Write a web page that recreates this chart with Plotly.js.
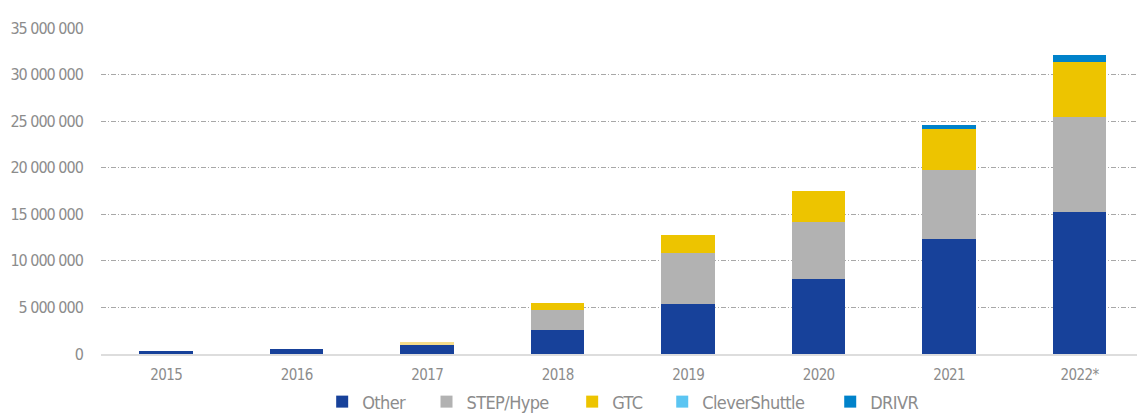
<!DOCTYPE html>
<html>
<head>
<meta charset="utf-8">
<script src="https://cdn.plot.ly/plotly-3.0.1.min.js"></script>
<style>
html,body{margin:0;padding:0;background:#fff;}
#chart{width:1137px;height:413px;}
#chart .ytick text{letter-spacing:-1px;}
#chart .xtick text{letter-spacing:-0.6px;}
#chart .legendtext{letter-spacing:-0.6px;}
</style>
</head>
<body>
<div id="chart"></div>
<script>
const years = ['2015','2016','2017','2018','2019','2020','2021','2022*'];
const other = [300000, 550000, 950000, 2550000, 5350000, 8050000, 12400000, 15200000];
const stepHype = [0, 0, 0, 2150000, 5450000, 6150000, 7350000, 10200000];
const gtc = [0, 0, 350000, 750000, 1950000, 3250000, 4450000, 5900000];
const cleverShuttle = [0, 0, 0, 0, 0, 0, 0, 0];
const drivr = [0, 0, 0, 0, 0, 0, 350000, 750000];

const gtcColors = years.map((y,i)=> i===2 ? '#F6DC8A' : '#EDC400');
const font = "'DejaVu Sans Condensed', 'Liberation Sans Narrow', sans-serif";
const grey = '#8c8c8c';

function tr(name, vals, color){
  return {type:'bar', name:name, x:years, y:vals, marker:{color:color, line:{width:0}}, width:0.41, hoverinfo:'skip'};
}
const data = [
  tr('Other', other, '#17419A'),
  tr('STEP/Hype', stepHype, '#B2B2B2'),
  tr('GTC', gtc, gtcColors),
  tr('CleverShuttle', cleverShuttle, '#5BC5F2'),
  tr('DRIVR', drivr, '#0082CA')
];

const layout = {
  width:1137, height:413,
  margin:{l:101, r:0, t:28, b:59, autoexpand:false},
  barmode:'stack',
  separators:', ',
  paper_bgcolor:'#fff', plot_bgcolor:'#fff',
  font:{family:font, color:grey, size:16},
  showlegend:true,
  legend:{orientation:'h', x:0.505, xanchor:'center', y:-0.147, yanchor:'middle',
          font:{family:font, size:18, color:grey}, itemwidth:30, traceorder:'normal'},
  xaxis:{type:'category', range:[-0.5, 7.44], showgrid:false, zeroline:false,
         showline:true, linecolor:'#dddddd', linewidth:2,
         ticks:'outside', ticklen:6, tickcolor:'rgba(0,0,0,0)', automargin:false,
         tickfont:{family:font, size:15, color:grey}},
  yaxis:{range:[0, 35000000], tickvals:[0,5e6,10e6,15e6,20e6,25e6,30e6,35e6],
         tickformat:',d', showgrid:true, gridcolor:'#a8a8a8', gridwidth:1,
         griddash:'5px,2px,1px,2px', zeroline:false, showline:false, automargin:false,
         ticks:'outside', ticklen:14, tickcolor:'rgba(0,0,0,0)',
         tickfont:{family:font, size:16, color:grey}}
};
Plotly.newPlot('chart', data, layout, {displayModeBar:false, staticPlot:true}).then(function(gd){
  // widen the spacing between legend entries
  const extra = 13;
  gd.querySelectorAll('.legend [clip-path]').forEach(function(el){ el.removeAttribute('clip-path'); });
  const items = gd.querySelectorAll('.legend .traces');
  const n = items.length;
  items.forEach(function(el, i){
    const t = el.getAttribute('transform') || '';
    const m = t.match(/translate\(\s*([-\d.]+)[ ,]+([-\d.]+)\s*\)/);
    if(m){
      const nx = parseFloat(m[1]) + i*extra - (n-1)*extra/2;
      el.setAttribute('transform', 'translate(' + nx + ',' + m[2] + ')');
    }
  });
});
</script>
</body>
</html>
